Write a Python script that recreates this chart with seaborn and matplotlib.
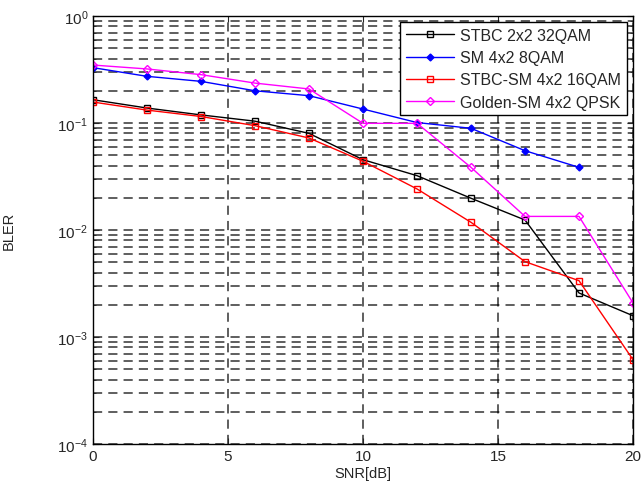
import numpy as np
import pandas as pd
import matplotlib
matplotlib.use("Agg")
import matplotlib.pyplot as plt
from matplotlib.ticker import LogLocator, FixedLocator
import seaborn as sns

snr = [0, 2, 4, 6, 8, 10, 12, 14, 16, 18, 20]
snr_sm = [0, 2, 4, 6, 8, 10, 12, 14, 16, 18]
stbc_32qam = [0.165, 0.138, 0.119, 0.104, 0.080, 0.0454, 0.0322, 0.0198, 0.0124, 0.00258, 0.00158]
sm_8qam = [0.329, 0.273, 0.245, 0.200, 0.180, 0.135, 0.101, 0.0892, 0.0551, 0.0385]
stbcsm_16qam = [0.157, 0.132, 0.115, 0.0944, 0.0724, 0.0439, 0.0242, 0.0118, 0.00506, 0.00336, 0.000614]
golden_qpsk = [0.348, 0.320, 0.283, 0.236, 0.208, 0.0993, 0.0993, 0.0385, 0.0134, 0.0134, 0.00208]
labels = ["STBC 2x2 32QAM", "SM 4x2 8QAM", "STBC-SM 4x2 16QAM", "Golden-SM 4x2 QPSK"]

sns.set_style("ticks")
plt.rcParams['font.family'] = ['Liberation Sans', 'DejaVu Sans']
plt.rcParams['mathtext.default'] = 'regular'

fig = plt.figure(figsize=(6.43, 4.85), dpi=100)
ax = fig.add_axes([93/643, 1-445/485, 540/643, 428/485])

series = [
    (snr, stbc_32qam, labels[0], 'black', 's', 'none', 5),
    (snr_sm, sm_8qam, labels[1], 'blue', 'D', 'blue', 3.5),
    (snr, stbcsm_16qam, labels[2], 'red', 's', 'none', 5),
    (snr, golden_qpsk, labels[3], 'magenta', 'D', 'none', 4.5),
]
for xs, ys, lab, col, mk, mfc, ms in series:
    sns.lineplot(x=xs, y=ys, ax=ax, color=col, marker=mk, markersize=ms,
                 markerfacecolor=mfc, markeredgecolor=col, markeredgewidth=1.0,
                 linewidth=1.0, label=lab)

ax.set_yscale('log')
ax.set_xlim(0, 20)
ax.set_ylim(1e-4, 1)
ax.set_xticks([0, 5, 10, 15, 20])
ax.yaxis.set_major_locator(LogLocator(base=10, numticks=10))
ax.yaxis.set_minor_locator(LogLocator(base=10, subs=np.arange(2, 10), numticks=20))

gkw = dict(color='black', linestyle=(0, (6, 4)), linewidth=1.1, alpha=0.8)
ax.grid(True, which='major', axis='both', **gkw)
ax.grid(True, which='minor', axis='y', **gkw)

ax.tick_params(which='both', direction='in', top=True, right=True, labelsize=11, length=4)
ax.tick_params(which='minor', length=2)
for s in ax.spines.values():
    s.set_color('black')
    s.set_linewidth(1.0)

ax.set_xlabel('SNR[dB]', fontsize=10.5, labelpad=2)
ax.set_ylabel('BLER', fontsize=10.5, labelpad=30)

leg = ax.legend(loc='upper right', fontsize=11.5, frameon=True, fancybox=False,
                edgecolor='black', framealpha=1, borderaxespad=0.4,
                handlelength=3.0, handletextpad=0.4, labelspacing=0.45, borderpad=0.35)
leg.get_frame().set_linewidth(1.0)

fig.savefig('out.png', dpi=100)
